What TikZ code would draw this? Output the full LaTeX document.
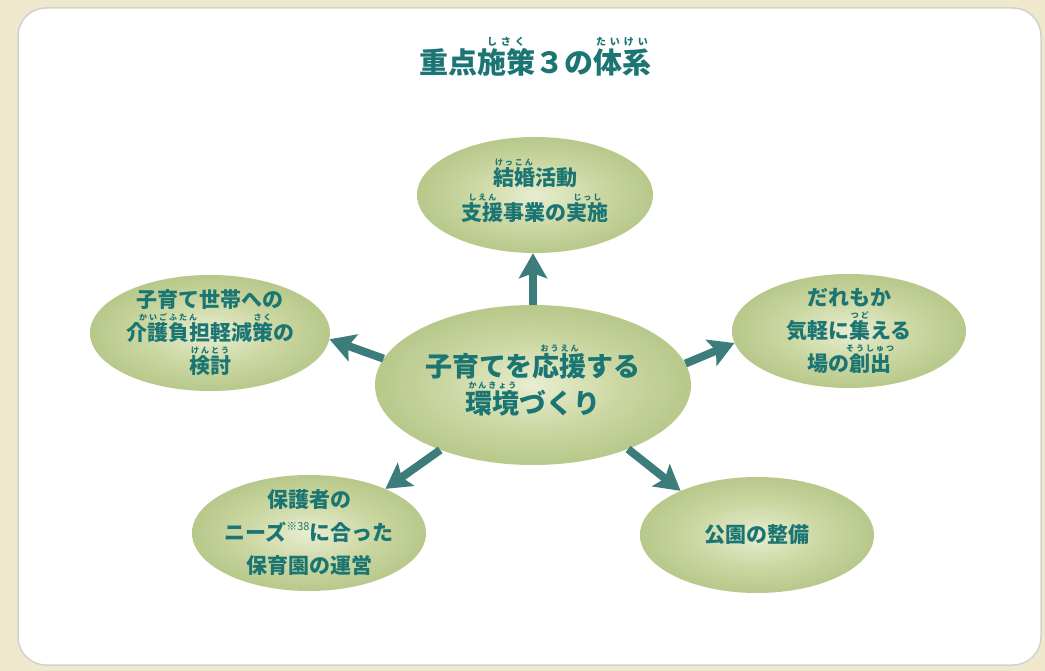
\documentclass[tikz,border=0pt]{standalone}
\usepackage{fontspec}
\setmainfont{Noto Sans CJK JP}
\usetikzlibrary{shapes.geometric,arrows.meta}
\definecolor{bgbeige}{HTML}{EFE8CD}
\definecolor{txt}{HTML}{1B7673}
\definecolor{arrc}{HTML}{3C7C7B}
\definecolor{ein}{HTML}{E8EDD0}
\definecolor{emid}{HTML}{CBD7A2}
\definecolor{eout}{HTML}{9DB46A}
\definecolor{eedge}{HTML}{829C4C}
\pgfdeclareradialshading{ellshade}{\pgfpoint{0bp}{0bp}}{color(0bp)=(ein); color(14bp)=(emid); color(40bp)=(eout); color(50bp)=(eedge); color(100bp)=(eedge)}
\newcommand\rubyf{\fontsize{8}{8}\selectfont\addfontfeature{LetterSpace=25}}
\newcommand\rb[2]{\leavevmode\setbox0=\hbox{#1}\rlap{\makebox[\wd0]{\smash{\raisebox{0.95em}{\rubyf #2}}}}\box0}
\begin{document}
\begin{tikzpicture}[x=1pt,y=-1pt,
  ell/.style={ellipse, inner sep=0pt, shading=ellshade},
  lbl/.style={text=txt, font=\bfseries\fontsize{21}{33}\selectfont, align=center, inner sep=0pt},
  arr/.style={draw=arrc, line width=8pt, -{Stealth[length=25pt,width=28pt,inset=5pt]}}
]
\useasboundingbox (0,0) rectangle (1045,671);
\fill[bgbeige] (0,0) rectangle (1045,671);
\filldraw[fill=white, draw=black!18, line width=1.5pt, rounded corners=28pt] (18,8) rectangle (1041,665);

\node[text=txt, inner sep=0pt, font=\bfseries\fontsize{29}{29}\selectfont\def\rubyf{\fontsize{10}{10}\selectfont\addfontfeature{LetterSpace=40}}] (title) at (535,62) {重点\rb{施策}{しさく}３の\rb{体系}{たいけい}};

\node[ell, minimum width=316pt, minimum height=160pt] (c) at (533,385) {};
\node[ell, minimum width=236pt, minimum height=116pt] (t) at (535,195) {};
\node[ell, minimum width=240pt, minimum height=116pt] (l) at (210,333) {};
\node[ell, minimum width=234pt, minimum height=114pt] (r) at (849,331) {};
\node[ell, minimum width=234pt, minimum height=116pt] (bl) at (309,533) {};
\node[ell, minimum width=234pt, minimum height=116pt] (br) at (757,535) {};

\draw[arr] (c.north) -- (c.north |- t.south);
\draw[arr] (c.170.5) -- (l.-3);
\draw[arr] (c.8.5) -- (r.186);
\draw[arr] (c.215) -- (bl.30);
\draw[arr] (c.-34) -- (br.150);

\node[lbl, font=\bfseries\fontsize{27}{37}\selectfont\def\rubyf{\fontsize{8}{8}\selectfont\addfontfeature{LetterSpace=25}}] (ctxt) at (c) {子育てを\rb{応援}{おうえん}する\\\rb{環境}{かんきょう}づくり};
\node[lbl, font=\bfseries\fontsize{21}{35}\selectfont] (ttxt) at (t) {\rb{結婚}{けっこん}活動\\\rb{支援}{しえん}事業の\rb{実施}{じっし}};
\node[lbl] (ltxt) at (l) {子育て世帯への\\\rb{介護負担}{かいごふたん}軽減\rb{策}{さく}の\\\rb{検討}{けんとう}};
\node[lbl] (rtxt) at (r) {だれもか\\気軽に\rb{集}{つど}える\\場の\rb{創出}{そうしゅつ}};
\node[lbl] (bltxt) at (bl) {保護者の\\ニーズ\raisebox{0.5em}{\mdseries\fontsize{11}{11}\selectfont ※38}に合った\\保育園の運営};
\node[lbl] (brtxt) at (br) {公園の整備};
\end{tikzpicture}
\end{document}
